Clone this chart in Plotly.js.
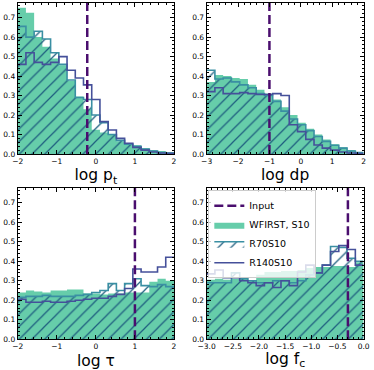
<!DOCTYPE html>
<html>
<head>
<meta charset="utf-8">
<script src="https://cdn.plot.ly/plotly-3.0.1.min.js"></script>
<style>html,body{margin:0;padding:0;background:#fff}</style>
</head>
<body>
<div id="plotArea" style="width:374px;height:370px"></div>
<script>
// bin edges (19 bins per panel)
var ptEdges = [-2.0, -1.789, -1.579, -1.368, -1.158, -0.947, -0.737, -0.526, -0.316, -0.105, 0.105, 0.316, 0.526, 0.737, 0.947, 1.158, 1.368, 1.579, 1.789, 2.0];
var dpEdges = [-3.0, -2.737, -2.474, -2.211, -1.947, -1.684, -1.421, -1.158, -0.895, -0.632, -0.368, -0.105, 0.158, 0.421, 0.684, 0.947, 1.211, 1.474, 1.737, 2.0];
var tauEdges = [-2.0, -1.789, -1.579, -1.368, -1.158, -0.947, -0.737, -0.526, -0.316, -0.105, 0.105, 0.316, 0.526, 0.737, 0.947, 1.158, 1.368, 1.579, 1.789, 2.0];
var fcEdges = [-3.0, -2.842, -2.684, -2.526, -2.368, -2.211, -2.053, -1.895, -1.737, -1.579, -1.421, -1.263, -1.105, -0.947, -0.789, -0.632, -0.474, -0.316, -0.158, 0.0];

// log p_t
var ptWfirst = [0.75, 0.725, 0.60, 0.55, 0.49, 0.455, 0.375, 0.295, 0.23, 0.125, 0.11, 0.10, 0.065, 0.053, 0.045, 0.03, 0.02, 0.015, 0.01];
var ptR70 = [0.655, 0.60, 0.63, 0.59, 0.52, 0.46, 0.38, 0.29, 0.28, 0.20, 0.16, 0.10, 0.07, 0.05, 0.04, 0.025, 0.015, 0.008, 0.004];
var ptR140 = [0.46, 0.52, 0.47, 0.46, 0.47, 0.50, 0.43, 0.39, 0.355, 0.28, 0.166, 0.123, 0.08, 0.055, 0.034, 0.02, 0.01, 0.005, 0.003];

// log dp
var dpWfirst = [0.37, 0.405, 0.40, 0.39, 0.385, 0.355, 0.33, 0.31, 0.28, 0.24, 0.20, 0.16, 0.13, 0.10, 0.075, 0.05, 0.035, 0.02, 0.01];
var dpR70 = [0.43, 0.385, 0.39, 0.37, 0.355, 0.34, 0.31, 0.30, 0.27, 0.22, 0.18, 0.15, 0.12, 0.09, 0.065, 0.045, 0.03, 0.015, 0.007];
var dpR140 = [0.32, 0.34, 0.31, 0.31, 0.315, 0.31, 0.305, 0.305, 0.31, 0.30, 0.15, 0.115, 0.075, 0.046, 0.03, 0.02, 0.01, 0.005, 0.002];

// log tau
var tauWfirst = [0.24, 0.25, 0.245, 0.24, 0.25, 0.25, 0.255, 0.255, 0.235, 0.235, 0.23, 0.235, 0.235, 0.24, 0.24, 0.24, 0.295, 0.31, 0.30];
var tauR70 = [0.215, 0.22, 0.22, 0.225, 0.22, 0.22, 0.22, 0.225, 0.23, 0.24, 0.25, 0.285, 0.25, 0.285, 0.31, 0.275, 0.27, 0.28, 0.27];
var tauR140 = [0.205, 0.19, 0.19, 0.195, 0.19, 0.19, 0.195, 0.20, 0.205, 0.21, 0.21, 0.22, 0.23, 0.26, 0.36, 0.345, 0.345, 0.37, 0.42];

// log f_c
var fcWfirst = [0.305, 0.31, 0.305, 0.31, 0.31, 0.30, 0.33, 0.345, 0.345, 0.35, 0.35, 0.355, 0.365, 0.37, 0.37, 0.375, 0.375, 0.37, 0.395];
var fcR70 = [0.29, 0.29, 0.29, 0.34, 0.31, 0.30, 0.29, 0.29, 0.30, 0.30, 0.29, 0.30, 0.33, 0.34, 0.38, 0.475, 0.47, 0.415, 0.40];
var fcR140 = [0.335, 0.355, 0.315, 0.315, 0.30, 0.29, 0.275, 0.29, 0.265, 0.30, 0.275, 0.345, 0.38, 0.34, 0.38, 0.45, 0.48, 0.46, 0.38];

var inputVals = [-0.22, -1.0, 1.0, -0.3];
var names = ["Input", "WFIRST, S10", "R70S10", "R140S10"];
var yTop = 0.775;

var cGreen = "#66cdaa", cR70 = "#3a8fa3", cHatch = "#1f5f80", cR140 = "#45509a", cInput = "#4a0e6e";

var panels = [
    {e: ptEdges, w: ptWfirst, a: ptR70, b: ptR140},
    {e: dpEdges, w: dpWfirst, a: dpR70, b: dpR140},
    {e: tauEdges, w: tauWfirst, a: tauR70, b: tauR140},
    {e: fcEdges, w: fcWfirst, a: fcR70, b: fcR140}
];

function stepY(v) { return v.concat([v[v.length - 1]]); }

var data = [];
panels.forEach(function (p, i) {
    var xa = i === 0 ? "x" : "x" + (i + 1);
    var ya = i === 0 ? "y" : "y" + (i + 1);
    var leg = i === 3;
    data.push({
        x: p.e, y: stepY(p.w), xaxis: xa, yaxis: ya, type: "scatter", mode: "lines",
        line: {shape: "hv", width: 0, color: cGreen}, fill: "tozeroy", fillcolor: cGreen,
        name: names[1], showlegend: leg, legendrank: 2
    });
    data.push({
        x: p.e, y: stepY(p.a), xaxis: xa, yaxis: ya, type: "scatter", mode: "lines",
        line: {shape: "hv", width: 1.6, color: cR70}, fill: "tozeroy", fillcolor: "rgba(0,0,0,0)",
        fillpattern: {shape: "/", fgcolor: cHatch, bgcolor: "rgba(0,0,0,0)", size: 9, solidity: 0.14},
        name: names[2], showlegend: leg, legendrank: 3
    });
    data.push({
        x: p.e, y: stepY(p.b), xaxis: xa, yaxis: ya, type: "scatter", mode: "lines",
        line: {shape: "hv", width: 1.6, color: cR140},
        name: names[3], showlegend: leg, legendrank: 4
    });
    data.push({
        x: [inputVals[i], inputVals[i]], y: [0, yTop], xaxis: xa, yaxis: ya, type: "scatter", mode: "lines",
        line: {width: 2.5, color: cInput, dash: "9px,4px"},
        name: names[0], showlegend: leg, legendrank: 1
    });
});

function xAx(dom, anchor, rng, dtick, minor, title, fmt) {
    return {
        domain: dom, anchor: anchor, range: rng, dtick: dtick, tick0: 0, tickformat: fmt,
        showline: true, linecolor: "black", linewidth: 1, mirror: "allticks",
        ticks: "inside", ticklen: 4, tickcolor: "black", showgrid: false, zeroline: false,
        minor: {ticks: "inside", ticklen: 2, dtick: minor, tickcolor: "black", showgrid: false},
        tickfont: {size: 7.5, color: "black", family: "DejaVu Sans"},
        title: {text: title, font: {size: 15.5, color: "black", family: "DejaVu Sans"}, standoff: 4},
        automargin: false, fixedrange: true
    };
}
function yAx(dom, anchor) {
    return {
        domain: dom, anchor: anchor, range: [0, yTop], dtick: 0.1, tick0: 0, tickformat: ".1f",
        showline: true, linecolor: "black", linewidth: 1, mirror: "allticks",
        ticks: "inside", ticklen: 4, tickcolor: "black", showgrid: false, zeroline: false,
        minor: {ticks: "inside", ticklen: 2, dtick: 0.02, tickcolor: "black", showgrid: false},
        tickfont: {size: 7.5, color: "black", family: "DejaVu Sans"},
        automargin: false, fixedrange: true
    };
}

var leftDom = [0.0473, 0.4652], rightDom = [0.5525, 0.9722];
var topDom = [0.5838, 0.9919], botDom = [0.083, 0.4919];

var layout = {
    width: 374, height: 370,
    margin: {l: 0, r: 0, t: 0, b: 0},
    paper_bgcolor: "white", plot_bgcolor: "white",
    font: {family: "DejaVu Sans", color: "black"},
    xaxis: xAx(leftDom, "y", [-2, 2], 1, 0.2, "log p<sub>t</sub>"),
    yaxis: yAx(topDom, "x"),
    xaxis2: xAx(rightDom, "y2", [-3, 2], 1, 0.2, "log dp"),
    yaxis2: yAx(topDom, "x2"),
    xaxis3: xAx(leftDom, "y3", [-2, 2], 1, 0.2, "log τ"),
    yaxis3: yAx(botDom, "x3"),
    xaxis4: xAx(rightDom, "y4", [-3, 0], 0.5, 0.1, "log f<sub>c</sub>", ".1f"),
    yaxis4: yAx(botDom, "x4"),
    showlegend: true,
    legend: {
        x: 0.557, y: 0.486, xanchor: "left", yanchor: "top",
        bgcolor: "rgba(255,255,255,0.8)", bordercolor: "#cccccc", borderwidth: 1,
        font: {size: 9.5, family: "DejaVu Sans", color: "black"},
        traceorder: "normal", tracegroupgap: 0, itemwidth: 30
    }
};

Plotly.newPlot("plotArea", data, layout, {displayModeBar: false, staticPlot: true});
</script>
</body>
</html>
